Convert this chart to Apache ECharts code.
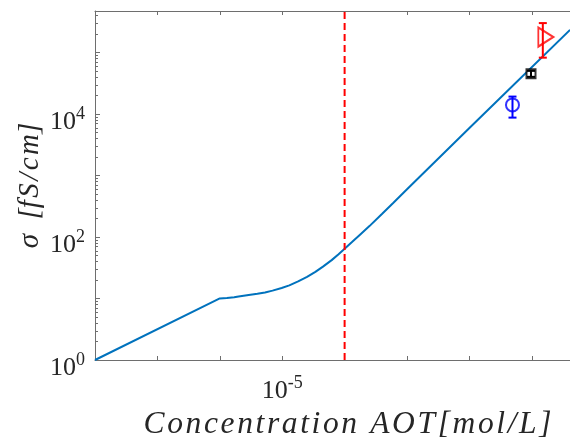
<!DOCTYPE html>
<html>
<head>
<meta charset="utf-8">
<script src="https://cdn.jsdelivr.net/npm/echarts@6/dist/echarts.min.js"></script>
<style>
  html, body { margin: 0; padding: 0; background: #ffffff; }
  #chart { width: 570px; height: 443px; }
</style>
</head>
<body>
<div id="chart"></div>
<script>
// Model curve: conductivity vs. AOT concentration
const concentration = [1e-8, 1e-6, 1.3e-6, 1.7e-6, 2e-6, 2.9e-6, 4e-6, 5.3e-6, 7e-6, 9.8e-6, 1.3e-5, 1.8e-5, 2.5e-5, 3.4e-5, 4.5e-5, 6.2e-5, 8e-5, 1.0e-4, 1.3e-4, 1.8e-4, 2.5e-4, 4.0e-4, 6e-4, 1e-3, 1e-2, 0.026, 0.409];
const conductivity  = [1,    10,   10.2,   10.5,   10.8, 11.4,   11.9, 12.5,   13.4, 14.8,   16.3,   18.9,   22.4,   27.0,   32.9,   42.0,   52.5, 64.5,   82,     111,    150,    238,    356,  595,  5900, 15200, 232000];

// Critical micelle concentration marker
const cmcConcentration = 1e-4;

// Measured points with error bars
const measuredConc = [0.049, 0.097, 0.15];
const measuredSigma = [14000, 44700, 177000];
const measuredLow = [8700, 40000, 82000];
const measuredHigh = [19100, 50000, 299000];

// Exponents that carry a tick label
const xLabelExponents = [-5];
const yLabelExponents = [0, 2, 4];

// Axis ranges
const xMin = 1e-8, xMax = 0.409;
const yMin = 1, yMax = 4.7e5;

const axisGray = '#6e6e6e';
const textColor = '#262626';
const serif = '"Liberation Serif", "Times New Roman", serif';

// minor ticks (2..9 per decade) on the conductivity axis
const yMinorTicks = [];
for (let d = 0; d <= 5; d++) {
  for (let m = 2; m <= 9; m++) {
    const v = m * Math.pow(10, d);
    if (v < yMax) yMinorTicks.push([xMin, v]);
  }
}

const markerStyles = [
  { symbol: 'emptyCircle', size: 13, color: '#0000ff', offset: [0, 0], rotate: 0 },
  { symbol: 'emptyRect', size: 9, color: '#000000', offset: [0, 0], rotate: 0 },
  { symbol: 'emptyTriangle', size: [19, 15], color: '#ff0000', offset: [3, 0], rotate: -90 }
];

function powerLabel(value, exps) {
  const e = Math.round(Math.log10(value));
  if (Math.abs(Math.log10(value) - e) > 0.01) return '';
  if (exps.indexOf(e) < 0) return '';
  return '{b|10}{s|' + e + '}';
}

const richLabel = {
  b: { fontFamily: serif, fontSize: 26, color: textColor, lineHeight: 30, verticalAlign: 'bottom' },
  s: { fontFamily: serif, fontSize: 18, color: textColor, lineHeight: 30, verticalAlign: 'top' }
};

const hs = '\u200A';
const xName = 'Concentration AOT[mol/L]'.split('').join(hs);
const yName = 'σ\u2002[' + 'fS/cm'.split('').join(hs) + ']';

const chart = echarts.init(document.getElementById('chart'), null, { renderer: 'canvas' });

chart.setOption({
  animation: false,
  backgroundColor: '#ffffff',
  grid: { left: 95, top: 11, right: 0, bottom: 83, containLabel: false, outerBoundsMode: 'none' },
  xAxis: [
    {
      type: 'log', logBase: 10, min: xMin, max: xMax, splitNumber: 8,
      position: 'bottom',
      axisLine: { show: true, lineStyle: { color: axisGray, width: 1 } },
      axisTick: { show: true, inside: true, length: 4, lineStyle: { color: axisGray } },
      splitLine: { show: false },
      axisLabel: {
        show: true, margin: 14,
        formatter: v => powerLabel(v, xLabelExponents),
        rich: richLabel
      },
      name: xName, nameLocation: 'middle', nameGap: 49, nameMoveOverlap: false,
      nameTextStyle: { fontFamily: serif, fontStyle: 'italic', fontSize: 31.5, color: textColor, padding: [0, 0, 0, 30] }
    },
    {
      type: 'log', logBase: 10, min: xMin, max: xMax, splitNumber: 8,
      position: 'top',
      axisLine: { show: true, lineStyle: { color: axisGray, width: 1 } },
      axisTick: { show: true, inside: true, length: 4, lineStyle: { color: axisGray } },
      splitLine: { show: false },
      axisLabel: { show: false }
    }
  ],
  yAxis: {
    type: 'log', logBase: 10, min: yMin, max: yMax, splitNumber: 6,
    axisLine: { show: true, lineStyle: { color: axisGray, width: 1 } },
    axisTick: { show: true, inside: true, length: 5, lineStyle: { color: axisGray } },
    splitLine: { show: false },
    axisLabel: {
      show: true, margin: 10, padding: [12, 0, 0, 0],
      formatter: v => powerLabel(v, yLabelExponents),
      rich: richLabel
    },
    name: yName, nameLocation: 'middle', nameRotate: 90, nameGap: 50, nameMoveOverlap: false,
    nameTextStyle: { fontFamily: serif, fontStyle: 'italic', fontSize: 29, color: textColor }
  },
  series: [
    {
      type: 'custom',
      silent: true,
      data: yMinorTicks,
      encode: { x: 0, y: 1 },
      clip: false,
      renderItem: function (params, api) {
        const p = api.coord([api.value(0), api.value(1)]);
        const y = Math.round(p[1]) + 0.5;
        return {
          type: 'line',
          shape: { x1: p[0], y1: y, x2: p[0] + 3, y2: y },
          style: { stroke: axisGray, lineWidth: 1 }
        };
      }
    },
    {
      type: 'line',
      data: concentration.map((c, i) => [c, conductivity[i]]),
      showSymbol: false, symbol: 'none',
      lineStyle: { color: '#0072bd', width: 2 },
      z: 3
    },
    {
      type: 'line',
      data: [[cmcConcentration, yMin], [cmcConcentration, yMax]],
      showSymbol: false, symbol: 'none',
      lineStyle: { color: '#ff0000', width: 2, type: [7, 4] },
      z: 3
    },
    {
      type: 'scatter',
      data: measuredConc.map((c, i) => ({
        value: [c, measuredSigma[i]],
        symbol: markerStyles[i].symbol,
        symbolSize: markerStyles[i].size,
        symbolRotate: markerStyles[i].rotate,
        symbolOffset: markerStyles[i].offset,
        itemStyle: { color: markerStyles[i].color, borderColor: markerStyles[i].color, borderWidth: 2 }
      })),
      z: 4
    },
    {
      type: 'custom',
      data: measuredConc.map((c, i) => [c, measuredLow[i], measuredHigh[i]]),
      encode: { x: 0, y: [1, 2] },
      z: 5,
      renderItem: function (params, api) {
        const x = api.value(0);
        const a = api.coord([x, api.value(1)]);
        const b = api.coord([x, api.value(2)]);
        const c = markerStyles[params.dataIndex].color;
        const w = 4;
        return {
          type: 'group',
          children: [
            { type: 'line', shape: { x1: a[0], y1: a[1], x2: b[0], y2: b[1] }, style: { stroke: c, lineWidth: 2 } },
            { type: 'line', shape: { x1: a[0] - w, y1: a[1], x2: a[0] + w, y2: a[1] }, style: { stroke: c, lineWidth: 2 } },
            { type: 'line', shape: { x1: b[0] - w, y1: b[1], x2: b[0] + w, y2: b[1] }, style: { stroke: c, lineWidth: 2 } }
          ]
        };
      }
    }
  ]
});
</script>
</body>
</html>
